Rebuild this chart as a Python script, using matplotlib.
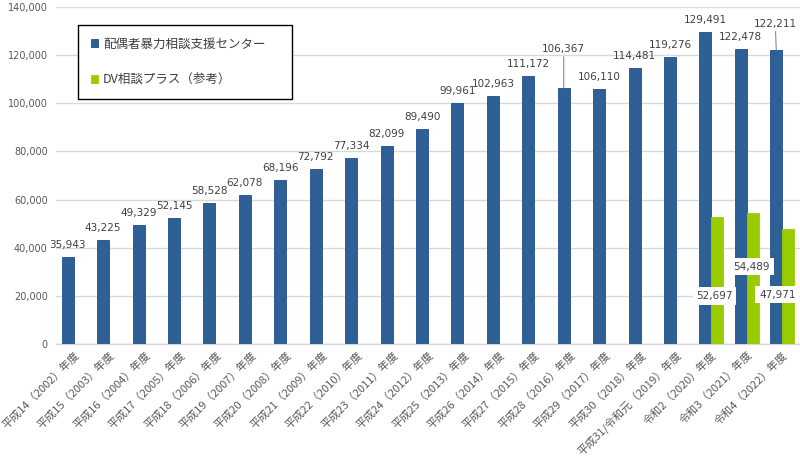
import matplotlib
matplotlib.use("Agg")
import matplotlib.pyplot as plt
import matplotlib.ticker as mticker
import numpy as np

# ---------------------------------------------------------------------------
# Data
# ---------------------------------------------------------------------------
years = [
    "平成14（2002）年度", "平成15（2003）年度", "平成16（2004）年度",
    "平成17（2005）年度", "平成18（2006）年度", "平成19（2007）年度",
    "平成20（2008）年度", "平成21（2009）年度", "平成22（2010）年度",
    "平成23（2011）年度", "平成24（2012）年度", "平成25（2013）年度",
    "平成26（2014）年度", "平成27（2015）年度", "平成28（2016）年度",
    "平成29（2017）年度", "平成30（2018）年度", "平成31/令和元（2019）年度",
    "令和2（2020）年度", "令和3（2021）年度", "令和4（2022）年度",
]
center = [
    35943, 43225, 49329, 52145, 58528, 62078, 68196, 72792, 77334, 82099,
    89490, 99961, 102963, 111172, 106367, 106110, 114481, 119276, 129491,
    122478, 122211,
]
dv_plus = [np.nan] * 18 + [52697, 54489, 47971]

label_center = "配偶者暴力相談支援センター"
label_dv = "DV相談プラス（参考）"

# ---------------------------------------------------------------------------
# Style
# ---------------------------------------------------------------------------
BLUE = "#2E6096"
BLUE_EDGE = "#1F4E8C"
GREEN = "#99CC00"
GRID = "#D9D9D9"
TICK = "#595959"
LABEL = "#404040"
JP = ["Noto Sans CJK JP", "DejaVu Sans"]

# label offsets in pixels (dx, dy) for labels that are moved by hand
blue_off = {14: (0, 39), 20: (-1, 26)}
green_off = {18: (-3, -79), 19: (-1, -54), 20: (-11, -66)}

plt.rcParams["font.family"] = ["DejaVu Sans", "Noto Sans CJK JP"]

fig = plt.figure(figsize=(8, 4.63), dpi=100)
ax = fig.add_axes([0.07, 0.257, 0.93, 0.728])

x = np.arange(len(years))
w = 0.34

bars_b = ax.bar(x - w / 2, center, w, color=BLUE, edgecolor=BLUE_EDGE,
                linewidth=0.6, zorder=3, label=label_center)
bars_g = ax.bar(x + w / 2, dv_plus, w, color=GREEN, edgecolor=GREEN,
                linewidth=0.6, zorder=3, label=label_dv)

ax.set_xlim(-0.5, len(years) - 0.5)
ax.set_ylim(0, 140000)
ax.yaxis.set_major_locator(mticker.MultipleLocator(20000))
ax.yaxis.set_major_formatter(mticker.FuncFormatter(lambda v, p: f"{int(v):,}"))
ax.yaxis.grid(True, color=GRID, linewidth=1.0)
ax.set_axisbelow(True)
for s in ("top", "right", "left"):
    ax.spines[s].set_visible(False)
ax.spines["bottom"].set_color(GRID)
ax.spines["bottom"].set_linewidth(1.0)
ax.tick_params(axis="both", length=0)
ax.tick_params(axis="y", labelsize=7, labelcolor=TICK, pad=6)

ax.set_xticks(x)
ax.set_xticklabels(years, rotation=45, ha="right", rotation_mode="anchor",
                   fontsize=8, color=TICK, family=JP)
ax.tick_params(axis="x", pad=4)

# blue value labels
for i, (bar, v) in enumerate(zip(bars_b, center)):
    dx, dy = blue_off.get(i, (0, 12))
    xc = bar.get_x() + bar.get_width() / 2
    kw = {}
    if i in blue_off:
        kw["arrowprops"] = dict(arrowstyle="-", color="#8C8C8C", lw=0.8,
                                shrinkA=0, shrinkB=0)
    ax.annotate(f"{v:,}", xy=(xc, v), xytext=(dx, dy),
                textcoords="offset pixels", ha="center", va="center",
                fontsize=7.5, color=LABEL, zorder=5, **kw)

# green value labels (white boxes)
for i, (bar, v) in enumerate(zip(bars_g, dv_plus)):
    if np.isnan(v):
        continue
    dx, dy = green_off.get(i, (0, 12))
    xc = bar.get_x() + bar.get_width() / 2
    ax.annotate(f"{int(v):,}", xy=(xc, v), xytext=(dx, dy),
                textcoords="offset pixels", ha="center", va="center",
                fontsize=7.5, color=LABEL, zorder=6,
                bbox=dict(boxstyle="square,pad=0.35", facecolor="white",
                          edgecolor="none"))

leg = ax.legend(loc="upper left", bbox_to_anchor=(0.0296, 0.5, 0.2876, 0.4466),
                mode="expand", borderaxespad=0,
                prop={"family": JP, "size": 9},
                handlelength=0.6, handleheight=0.6, handletextpad=0.4,
                labelspacing=1.85, borderpad=1.0, fancybox=False,
                framealpha=1, labelcolor=LABEL)
leg.get_frame().set_edgecolor("#000000")
leg.get_frame().set_linewidth(1.0)
leg.set_zorder(10)

fig.savefig("out.png", dpi=100, facecolor="white")
